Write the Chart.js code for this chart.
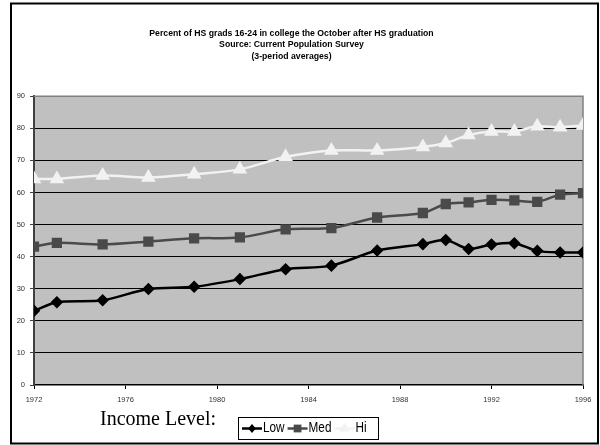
<!DOCTYPE html>
<html>
<head>
<meta charset="utf-8">
<script src="https://cdn.jsdelivr.net/npm/chart.js@4/dist/chart.umd.min.js"></script>
<style>
  html, body { margin: 0; padding: 0; background: #ffffff; }
  #wrap { width: 600px; height: 445px; }
</style>
</head>
<body>
<div id="wrap"><canvas id="chart" width="600" height="445"></canvas></div>
<script>
// Survey years (3-period averages centred on each year)
const years = [1972, 1973, 1975, 1977, 1979, 1981, 1983, 1985, 1987, 1989, 1990, 1991, 1992, 1993, 1994, 1995, 1996];

// Percent of HS grads 16-24 enrolled in college the October after graduation
const lowIncome = [23.1, 25.8, 26.4, 29.9, 30.6, 33.0, 36.1, 37.2, 41.9, 43.9, 45.2, 42.4, 43.8, 44.2, 41.8, 41.3, 41.3];
const medIncome = [43.1, 44.3, 43.8, 44.7, 45.7, 46.0, 48.5, 48.9, 52.2, 53.6, 56.4, 56.9, 57.7, 57.5, 57.1, 59.3, 59.8];
const hiIncome  = [64.2, 64.2, 65.3, 64.7, 65.7, 67.2, 71.1, 73.1, 73.1, 74.2, 75.4, 77.9, 79.0, 79.0, 80.6, 80.3, 80.9];

const seriesNames = ['Low', 'Med', 'Hi'];
const legendCaption = 'Income Level:';
const titleLines = [
  'Percent of HS grads 16-24 in college the October after HS graduation',
  'Source: Current Population Survey',
  '(3-period averages)'
];
const yTickValues = [0, 10, 20, 30, 40, 50, 60, 70, 80, 90];
const xTickValues = [1972, 1976, 1980, 1984, 1988, 1992, 1996];

const SANS = "'Liberation Sans', Arial, sans-serif";
const SERIF = "'Liberation Serif', 'Times New Roman', serif";

const toPoints = vals => years.map((yr, i) => ({ x: yr, y: vals[i] }));

// Page background, outer frame and grey plot area
const framePlugin = {
  id: 'frame',
  beforeDraw(chart) {
    const { ctx, chartArea: a } = chart;
    ctx.save();
    ctx.fillStyle = '#ffffff';
    ctx.fillRect(0, 0, chart.width, chart.height);
    ctx.lineWidth = 2;
    ctx.strokeStyle = '#000000';
    ctx.strokeRect(11, 3.5, 587, 440);
    ctx.fillStyle = '#c0c0c0';
    ctx.fillRect(a.left, a.top, a.right - a.left, a.bottom - a.top);
    ctx.restore();
  },
  beforeDatasetsDraw(chart) {
    // grey top and right edges of the plot area
    const { ctx, chartArea: a } = chart;
    ctx.save();
    ctx.strokeStyle = '#808080';
    ctx.lineWidth = 1.5;
    ctx.beginPath();
    ctx.moveTo(a.left, a.top);
    ctx.lineTo(a.right, a.top);
    ctx.lineTo(a.right, a.bottom);
    ctx.stroke();
    ctx.restore();
  }
};

function drawMarker(ctx, style, x, y, r, color) {
  ctx.fillStyle = color;
  ctx.beginPath();
  if (style === 'rectRot') {
    ctx.moveTo(x, y - r); ctx.lineTo(x + r * 0.85, y); ctx.lineTo(x, y + r); ctx.lineTo(x - r * 0.85, y);
  } else if (style === 'rect') {
    const s = r * Math.SQRT1_2;
    ctx.rect(x - s, y - s, 2 * s, 2 * s);
  } else {
    ctx.moveTo(x, y - r); ctx.lineTo(x + r * 0.866, y + r / 2); ctx.lineTo(x - r * 0.866, y + r / 2);
  }
  ctx.closePath();
  ctx.fill();
}

// Legend box with line + marker samples and the caption to its left
const legendPlugin = {
  id: 'incomeLegend',
  afterDraw(chart) {
    const { ctx } = chart;
    ctx.save();
    ctx.fillStyle = '#000000';
    ctx.font = '20px ' + SERIF;
    ctx.textAlign = 'left';
    ctx.textBaseline = 'alphabetic';
    ctx.fillText(legendCaption, 100, 425);

    const box = { x: 238, y: 417, w: 140, h: 22 };
    ctx.fillStyle = '#ffffff';
    ctx.fillRect(box.x, box.y, box.w, box.h);
    ctx.strokeStyle = '#000000';
    ctx.lineWidth = 1;
    ctx.strokeRect(box.x + 0.5, box.y + 0.5, box.w, box.h);

    // condensed label text
    const squeeze = 0.84;
    ctx.font = '14px ' + SANS;
    ctx.textBaseline = 'middle';
    const cy = box.y + box.h / 2 + 0.5;
    let x = box.x + 4;
    chart.data.datasets.forEach(ds => {
      const sampleLen = 20;
      ctx.strokeStyle = ds.borderColor;
      ctx.lineWidth = 2.5;
      ctx.beginPath();
      ctx.moveTo(x, cy);
      ctx.lineTo(x + sampleLen, cy);
      ctx.stroke();
      drawMarker(ctx, ds.pointStyle, x + sampleLen / 2, cy, ds.pointRadius, ds.pointBackgroundColor);
      x += sampleLen + 1;
      ctx.save();
      ctx.translate(x, cy);
      ctx.scale(squeeze, 1);
      ctx.fillStyle = '#000000';
      ctx.fillText(ds.label, 0, 0);
      ctx.restore();
      x += ctx.measureText(ds.label).width * squeeze + 3;
    });
    ctx.restore();
  }
};

const chart = new Chart(document.getElementById('chart'), {
  type: 'line',
  data: {
    datasets: [
      {
        label: seriesNames[0],
        data: toPoints(lowIncome),
        borderColor: '#000000',
        backgroundColor: '#000000',
        pointBackgroundColor: '#000000',
        pointBorderColor: '#000000',
        pointStyle: 'rectRot',
        pointRadius: 4.5,
        borderWidth: 2.5
      },
      {
        label: seriesNames[1],
        data: toPoints(medIncome),
        borderColor: '#4a4a4a',
        backgroundColor: '#4a4a4a',
        pointBackgroundColor: '#4a4a4a',
        pointBorderColor: '#4a4a4a',
        pointStyle: 'rect',
        pointRadius: 5.5,
        borderWidth: 2.5
      },
      {
        label: seriesNames[2],
        data: toPoints(hiIncome),
        borderColor: '#f2f2f2',
        backgroundColor: '#f2f2f2',
        pointBackgroundColor: '#f2f2f2',
        pointBorderColor: '#f2f2f2',
        pointStyle: 'triangle',
        pointRadius: 6,
        borderWidth: 2.5
      }
    ]
  },
  options: {
    responsive: false,
    animation: false,
    devicePixelRatio: 1,
    layout: { padding: { left: 0, right: 17, top: 0, bottom: 38 } },
    elements: { line: { tension: 0.3 } },
    plugins: {
      legend: { display: false },
      tooltip: { enabled: false },
      title: {
        display: true,
        text: titleLines,
        color: '#000000',
        font: { family: SANS, size: 8.7, weight: 'bold', lineHeight: 1.31 },
        padding: { top: 28, bottom: 34 }
      }
    },
    scales: {
      x: {
        type: 'linear',
        min: 1972,
        max: 1996,
        afterBuildTicks(scale) { scale.ticks = xTickValues.map(v => ({ value: v })); },
        afterFit(scale) { scale.height = 22; },
        grid: { drawOnChartArea: false, drawTicks: true, tickLength: 4, color: '#000000', tickColor: '#000000' },
        border: { display: true, color: '#000000', width: 1.5 },
        ticks: {
          color: '#333333',
          font: { family: SANS, size: 7.5 },
          padding: 6,
          maxRotation: 0,
          autoSkip: false,
          callback: v => String(v)
        }
      },
      y: {
        min: 0,
        max: 90,
        afterBuildTicks(scale) { scale.ticks = yTickValues.map(v => ({ value: v })); },
        afterFit(scale) { scale.width = 34; },
        grid: {
          drawTicks: true,
          tickLength: 4,
          tickColor: '#404040',
          lineWidth: 1,
          color: ctx => (ctx.tick && (ctx.tick.value === 0 || ctx.tick.value === 90)) ? 'rgba(0,0,0,0)' : '#000000'
        },
        border: { display: true, color: '#404040', width: 2 },
        ticks: {
          color: '#333333',
          font: { family: SANS, size: 7.5 },
          padding: 5,
          autoSkip: false
        }
      }
    }
  },
  plugins: [framePlugin, legendPlugin]
});
</script>
</body>
</html>
